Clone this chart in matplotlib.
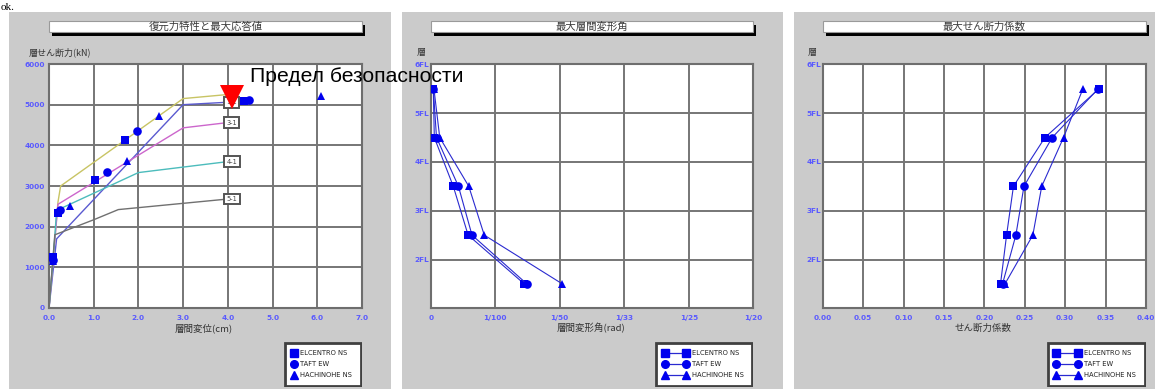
import matplotlib
matplotlib.use("Agg")
import matplotlib.pyplot as plt
from matplotlib.patches import Rectangle
from matplotlib.lines import Line2D

W, H, DPI = 1162, 389, 100
JP = ["Noto Sans CJK JP", "DejaVu Sans"]

# ---- restoring-force skeleton curves (story displacement cm, story shear kN)
s1_disp = [0.0, 0.17, 3.0, 4.0]
s1_shear = [0, 1700, 5000, 5060]
s2_disp = [0.0, 0.20, 0.26, 3.0, 4.0]
s2_shear = [0, 2600, 3000, 5150, 5250]
s3_disp = [0.0, 0.20, 3.0, 4.0]
s3_shear = [0, 2550, 4430, 4560]
s4_disp = [0.0, 0.12, 0.17, 2.0, 4.0]
s4_shear = [0, 1600, 2400, 3330, 3600]
s5_disp = [0.0, 0.13, 1.0, 1.55, 4.0]
s5_shear = [0, 1800, 2170, 2420, 2680]
curve_labels = ["1-1", "2-1", "3-1", "4-1", "5-1"]
curve_colors = ["#5a5ad0", "#c8c464", "#cc66cc", "#4cbcbc", "#707070"]
boxed_curves = ["1-1", "3-1", "4-1", "5-1"]

# ---- maximum responses per story (stories 1..5)
wave_names = ["ELCENTRO NS", "TAFT EW", "HACHINOHE NS"]
wave_markers = ["s", "o", "^"]
elc_disp = [4.35, 1.70, 1.03, 0.21, 0.08]
elc_shear = [5100, 4120, 3140, 2345, 1245]
taft_disp = [4.48, 1.96, 1.29, 0.25, 0.09]
taft_shear = [5120, 4360, 3340, 2410, 1180]
hach_disp = [6.08, 2.45, 1.75, 0.47, 0.09]
hach_shear = [5220, 4720, 3620, 2520, 1150]

story_level = [1.5, 2.5, 3.5, 4.5, 5.5]
elc_drift = [0.0145, 0.0058, 0.0035, 0.00056, 0.0004]
taft_drift = [0.0149, 0.0064, 0.0043, 0.0009, 0.0004]
hach_drift = [0.0204, 0.0083, 0.0059, 0.0014, 0.0005]

elc_coef = [0.220, 0.2275, 0.236, 0.275, 0.342]
taft_coef = [0.2225, 0.239, 0.249, 0.284, 0.341]
hach_coef = [0.2255, 0.260, 0.271, 0.298, 0.322]

# ---- axis ticks
disp_ticks = [0, 1, 2, 3, 4, 5, 6, 7]
disp_ticklabels = ["0.0", "1.0", "2.0", "3.0", "4.0", "5.0", "6.0", "7.0"]
shear_ticks = [0, 1000, 2000, 3000, 4000, 5000, 6000]
floor_ticks = [1, 2, 3, 4, 5, 6]
floor_ticklabels = ["", "2FL", "3FL", "4FL", "5FL", "6FL"]
drift_ticks = [0, 0.01, 0.02, 0.03, 0.04, 0.05]
drift_ticklabels = ["0", "1/100", "1/50", "1/33", "1/25", "1/20"]
coef_ticks = [0, 0.05, 0.10, 0.15, 0.20, 0.25, 0.30, 0.35, 0.40]
coef_ticklabels = ["0.00", "0.05", "0.10", "0.15", "0.20", "0.25", "0.30", "0.35", "0.40"]

fig = plt.figure(figsize=(W / DPI, H / DPI), dpi=DPI)
fig.patch.set_facecolor("white")


def frect(x0, y0, x1, y1):
    return [x0 / W, 1 - y1 / H, (x1 - x0) / W, (y1 - y0) / H]


def fig_box(x0, y0, x1, y1, **kw):
    fig.patches.append(Rectangle((x0 / W, 1 - y1 / H), (x1 - x0) / W, (y1 - y0) / H,
                                 transform=fig.transFigure, **kw))


def ftext(x, y, s, **kw):
    fig.text(x / W, 1 - y / H, s, **kw)


# grey panels
for px0, px1 in [(9, 391), (402, 783), (794, 1155)]:
    fig_box(px0, 12, px1, 389, facecolor="#cbcbcb", edgecolor="none", zorder=-10)


def title_box(x0, x1, text):
    fig_box(x0 + 3, 24.5, x1 + 3, 35.5, facecolor="black", edgecolor="none", zorder=1)
    fig_box(x0, 21, x1, 32, facecolor="white", edgecolor="#9a9a9a", linewidth=0.8, zorder=2)
    ftext((x0 + x1) / 2, 26.5, text, ha="center", va="center", fontsize=7.5,
          color="#3a3a3a", family=JP, zorder=3)


def style_axes(ax):
    ax.set_facecolor("white")
    for sp in ax.spines.values():
        sp.set_color("#6e6e6e")
        sp.set_linewidth(1.5)
    ax.grid(True, color="#767676", linewidth=1.4)
    ax.set_axisbelow(True)
    ax.tick_params(length=0, labelsize=5.3, labelcolor="#5a5aff")
    ax.tick_params(axis="x", pad=5)
    for lab in ax.get_xticklabels() + ax.get_yticklabels():
        lab.set_fontweight("bold")


def legend_box(x0, y0, x1, y1, m_left, m_right, text_x, with_line):
    lax = fig.add_axes(frect(x0, y0, x1, y1))
    lax.set_xlim(x0, x1)
    lax.set_ylim(y1, y0)
    lax.axis("off")
    lax.add_patch(Rectangle((x0 + 1, y0 + 1), x1 - x0 - 2, y1 - y0 - 2,
                            facecolor="white", edgecolor="#404040", linewidth=2))
    for i, (name, mk) in enumerate(zip(wave_names, wave_markers)):
        yy = 353.3 + i * 10.9
        if with_line:
            lax.add_line(Line2D([m_left, m_right], [yy, yy], color="#2a2ad0", linewidth=0.9,
                                marker=mk, markersize=5.5, markerfacecolor="#0000ee",
                                markeredgecolor="#0000ee"))
        else:
            lax.add_line(Line2D([m_left], [yy], marker=mk, markersize=5.5, linestyle="none",
                                markerfacecolor="#0000ee", markeredgecolor="#0000ee"))
        lax.text(text_x, yy, name, fontsize=4.9, va="center", ha="left", color="#222222",
                 family="DejaVu Sans")


# ================= panel 1: restoring force characteristics
ax1 = fig.add_axes(frect(49, 64, 362, 308))
curves = [(s1_disp, s1_shear), (s2_disp, s2_shear), (s3_disp, s3_shear),
          (s4_disp, s4_shear), (s5_disp, s5_shear)]
for (xd, yd), lab, col in zip(curves, curve_labels, curve_colors):
    ax1.plot(xd, yd, color=col, linewidth=1.0, zorder=2)
    if lab in boxed_curves:
        ax1.text(xd[-1] - 0.03, yd[-1], lab, fontsize=4.8, ha="left", va="center",
                 color="#444444", zorder=4,
                 bbox=dict(boxstyle="square,pad=0.35", fc="white", ec="#555555", lw=1.4))
for xd, yd, mk in [(elc_disp, elc_shear, "s"), (taft_disp, taft_shear, "o"),
                   (hach_disp, hach_shear, "^")]:
    ax1.plot(xd, yd, linestyle="none", marker=mk, markersize=6.2, color="#0000ee",
             markeredgewidth=0, zorder=5)
ax1.set_xlim(0, 7)
ax1.set_ylim(0, 6000)
ax1.set_xticks(disp_ticks)
ax1.set_xticklabels(disp_ticklabels)
ax1.set_yticks(shear_ticks)
style_axes(ax1)
ax1.tick_params(axis="y", pad=3)
title_box(49, 362, "復元力特性と最大応答値")
ftext(29, 52.5, "層せん断力(kN)", fontsize=6.5, color="#333333", family=JP, va="center")
ftext(204, 328, "層間変位(cm)", fontsize=6.8, color="#333333", family=JP, ha="center", va="center")
legend_box(284, 342, 362, 387, 294, None, 300, False)

# ================= panel 2: maximum story drift angle
ax2 = fig.add_axes(frect(430.7, 64.3, 753.3, 308.3))
for xd, mk in [(elc_drift, "s"), (taft_drift, "o"), (hach_drift, "^")]:
    ax2.plot(xd, story_level, color="#2a2ad0", linewidth=0.8, marker=mk, markersize=6.2,
             markerfacecolor="#0000ee", markeredgewidth=0, zorder=5)
ax2.set_xlim(0, 0.05)
ax2.set_ylim(1, 6)
ax2.set_xticks(drift_ticks)
ax2.set_xticklabels(drift_ticklabels)
ax2.set_yticks(floor_ticks)
ax2.set_yticklabels(floor_ticklabels)
style_axes(ax2)
ax2.tick_params(axis="y", pad=1)
title_box(430.7, 753.3, "最大層間変形角")
ftext(421.5, 52, "層", fontsize=6.5, color="#333333", family=JP, ha="center", va="center")
ftext(591, 328, "層間変形角(rad)", fontsize=6.8, color="#333333", family=JP, ha="center", va="center")
legend_box(655, 342, 753, 387, 665, 686, 692, True)

# ================= panel 3: maximum shear coefficient
ax3 = fig.add_axes(frect(822.7, 64.3, 1146, 308.3))
for xd, mk in [(elc_coef, "s"), (taft_coef, "o"), (hach_coef, "^")]:
    ax3.plot(xd, story_level, color="#2a2ad0", linewidth=0.8, marker=mk, markersize=6.2,
             markerfacecolor="#0000ee", markeredgewidth=0, zorder=5)
ax3.set_xlim(0, 0.40)
ax3.set_ylim(1, 6)
ax3.set_xticks(coef_ticks)
ax3.set_xticklabels(coef_ticklabels)
ax3.set_yticks(floor_ticks)
ax3.set_yticklabels(floor_ticklabels)
style_axes(ax3)
ax3.tick_params(axis="y", pad=1)
title_box(822.7, 1146, "最大せん断力係数")
ftext(812, 52, "層", fontsize=6.5, color="#333333", family=JP, ha="center", va="center")
ftext(983, 328, "せん断力係数", fontsize=6.8, color="#333333", family=JP, ha="center", va="center")
legend_box(1047, 342, 1146, 387, 1056, 1078, 1084, True)

# ================= safety-limit annotation
limit_disp = [4.09]
limit_shear = [5200]
ax1.plot(limit_disp, limit_shear, linestyle="none", marker="v", markersize=17,
         color="#ff0000", markeredgewidth=0, zorder=20, clip_on=False)
ftext(250, 81.7, "Предел безопасности", fontsize=15.2, family="Liberation Sans",
      color="black", va="baseline", zorder=30)

# small caption line at the very top of the page
ftext(1, 9.5, "ok.", fontsize=8, family="Liberation Serif", color="black",
      va="baseline", zorder=30)

fig.savefig("out.png", dpi=DPI)
